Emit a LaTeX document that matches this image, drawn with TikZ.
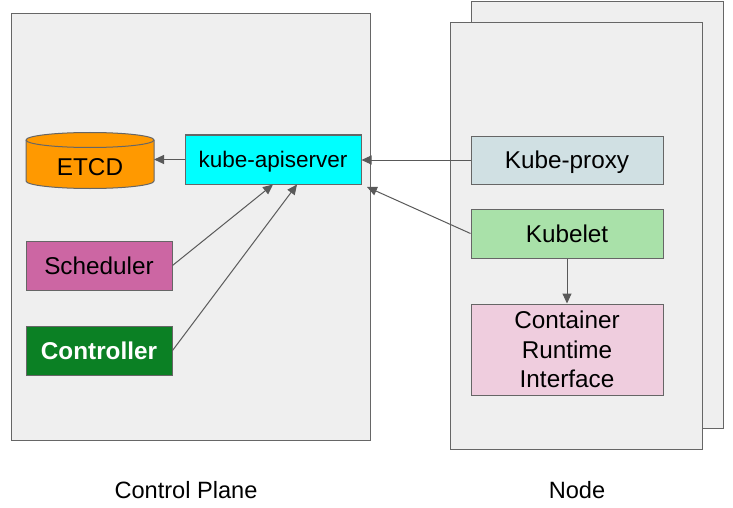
\documentclass[tikz,border=0pt]{standalone}
\usepackage{fontspec}
\setmainfont{Liberation Sans}
\usetikzlibrary{arrows.meta,calc}
\definecolor{panel}{HTML}{EFEFEF}
\definecolor{edge}{HTML}{666666}
\definecolor{arr}{HTML}{595959}
\definecolor{etcdc}{HTML}{FF9900}
\definecolor{apic}{HTML}{00FFFF}
\definecolor{schedc}{HTML}{CC66A3}
\definecolor{ctrlc}{HTML}{0B8024}
\definecolor{proxyc}{HTML}{D0E0E3}
\definecolor{kubeletc}{HTML}{A9E1A9}
\definecolor{cric}{HTML}{EFCDDE}
\tikzset{
  panelbox/.style={draw=edge,fill=panel,line width=1pt},
  comp/.style={draw=edge,line width=1pt,inner sep=0pt,font=\fontsize{24.3}{29.5}\selectfont,align=center},
  capc/.style={text height=17.4pt,text depth=0pt},
  conn/.style={draw=arr,line width=1pt,-{Triangle[length=10pt,width=9pt]}},
  caption/.style={font=\fontsize{23.6}{28}\selectfont,inner sep=0pt}
}
\begin{document}
\begin{tikzpicture}[x=1pt,y=-1pt]
\useasboundingbox (0,0) rectangle (733,508);
% panels
\draw[panelbox] (11,14) rectangle (370,440);
\draw[panelbox] (471,2) rectangle (723,428);
\draw[panelbox] (450,23) rectangle (702,449);
% ETCD cylinder
\filldraw[draw=edge,fill=etcdc,line width=1pt]
  (26,140) -- (26,181) arc[start angle=180,end angle=360,x radius=64pt,y radius=7.5pt]
  -- (154,140) arc[start angle=0,end angle=180,x radius=64pt,y radius=7.5pt] -- cycle;
\draw[edge,line width=1pt] (26,140) arc[start angle=180,end angle=360,x radius=64pt,y radius=7.5pt];
\node[capc,inner sep=0pt,font=\fontsize{24.3}{29.5}\selectfont] (etcd) at (90,166.3) {ETCD};
\coordinate (etcdE) at (154,160);
% components
\node[comp,text height=16.1pt,text depth=0pt,fill=apic,minimum width=176pt,minimum height=49pt,font=\fontsize{22.5}{29}\selectfont] (api) at (273,159.5) {kube-apiserver};
\node[comp,capc,fill=schedc,minimum width=146pt,minimum height=49pt] (sched) at (99,265.5) {Scheduler};
\node[comp,capc,fill=ctrlc,text=white,minimum width=146pt,minimum height=49pt,font=\fontsize{24.3}{29.5}\selectfont\bfseries] (ctrl) at (99,350.5) {Controller};
\node[comp,capc,fill=proxyc,minimum width=192pt,minimum height=48pt] (proxy) at (567,160) {Kube-proxy};
\node[comp,capc,fill=kubeletc,minimum width=192pt,minimum height=49pt] (kubelet) at (567,233.5) {Kubelet};
\node[comp,fill=cric,minimum width=192pt,minimum height=91pt] (cri) at (567,349.5) {Container\\Runtime\\Interface};
% connectors
\draw[conn] (api.west) -- (etcdE |- api.west);
\draw[conn] (proxy.west) -- (api.east |- proxy.west);
\draw[conn,shorten >=6pt] (kubelet.west) -- (api.south east);
\draw[conn] (sched.east) -- (api.south);
\draw[conn] (ctrl.east) -- ([xshift=24pt]api.south);
\draw[conn] (kubelet.south) -- (cri.north);
% captions
\node[caption] (cp) at (186,490) {Control Plane};
\node[caption] (nd) at (577,490) {Node};
\end{tikzpicture}
\end{document}
